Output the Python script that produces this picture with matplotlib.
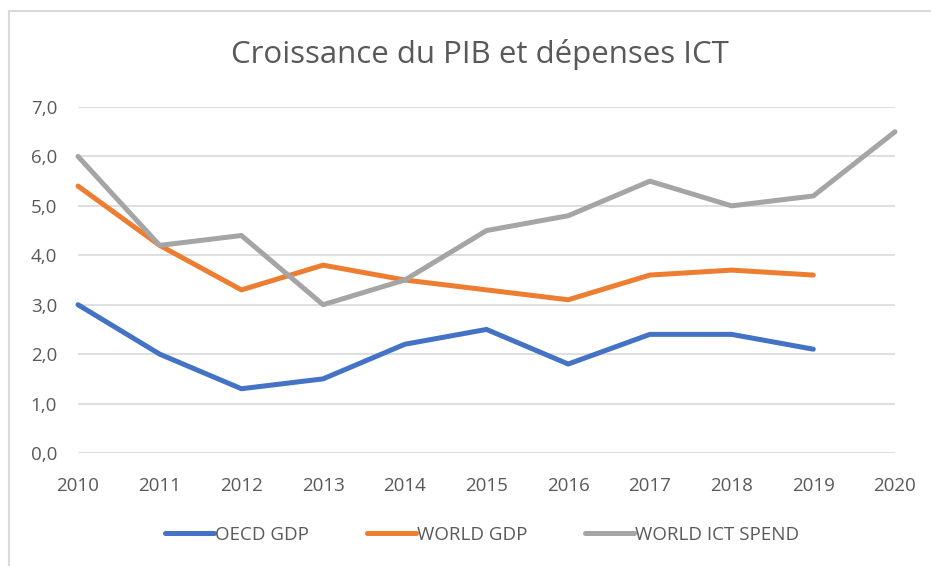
import matplotlib
matplotlib.use("Agg")
import matplotlib.pyplot as plt
from matplotlib.lines import Line2D
from matplotlib.ticker import FuncFormatter

years = [2010, 2011, 2012, 2013, 2014, 2015, 2016, 2017, 2018, 2019, 2020]
oecd_gdp = [3.0, 2.0, 1.3, 1.5, 2.2, 2.5, 1.8, 2.4, 2.4, 2.1]
world_gdp = [5.4, 4.2, 3.3, 3.8, 3.5, 3.3, 3.1, 3.6, 3.7, 3.6]
world_ict = [6.0, 4.2, 4.4, 3.0, 3.5, 4.5, 4.8, 5.5, 5.0, 5.2, 6.5]
y_ticks = [0, 1, 2, 3, 4, 5, 6, 7]

plt.rcParams['font.family'] = ['Open Sans', 'DejaVu Sans']

fig = plt.figure(figsize=(9.31, 5.66), dpi=100)
W, H = 931, 566
ax = fig.add_axes([78 / W, 1 - 453 / H, (895 - 78) / W, (453 - 107) / H])

c_blue = '#4472c4'
c_orange = '#ed7d31'
c_gray = '#a5a5a5'
txt = '#595959'

ax.plot(years[:len(oecd_gdp)], oecd_gdp, color=c_blue, lw=3.6, label='OECD GDP',
        solid_capstyle='round', solid_joinstyle='round', zorder=3)
ax.plot(years[:len(world_gdp)], world_gdp, color=c_orange, lw=3.6, label='WORLD GDP',
        solid_capstyle='round', solid_joinstyle='round', zorder=3)
ax.plot(years[:len(world_ict)], world_ict, color=c_gray, lw=3.6, label='WORLD ICT SPEND',
        solid_capstyle='round', solid_joinstyle='round', zorder=3)

ax.set_xlim(years[0], years[-1])
ax.set_ylim(0, 7)
ax.set_yticks(y_ticks)
ax.set_xticks(years)
ax.yaxis.set_major_formatter(FuncFormatter(lambda v, p: f"{v:.1f}".replace('.', ',')))
ax.grid(axis='y', color='#d9d9d9', lw=1.2)
ax.set_axisbelow(True)
for s in ax.spines.values():
    s.set_visible(False)
ax.tick_params(axis='both', length=0, labelsize=13.5, labelcolor=txt)
ax.tick_params(axis='y', pad=15)
ax.tick_params(axis='x', pad=17)
for ln in ax.lines:
    ln.set_clip_on(False)

fig.text(480 / W, 1 - 55 / H, 'Croissance du PIB et dépenses ICT', ha='center', va='center',
         fontsize=22.5, color=txt)

leg = fig.legend(handles=ax.lines, labels=[l.get_label() for l in ax.lines],
                 loc='center', bbox_to_anchor=(482 / W, 1 - 535 / H), ncol=3, frameon=False,
                 fontsize=13.5, labelcolor=txt, handlelength=2.6, handletextpad=0.05,
                 columnspacing=3.1)

# chart border
fig.add_artist(Line2D([9 / W, 1], [1 - 11 / H, 1 - 11 / H], transform=fig.transFigure,
                      color='#d9d9d9', lw=1.5))
fig.add_artist(Line2D([9 / W, 9 / W], [0, 1 - 11 / H], transform=fig.transFigure,
                      color='#d9d9d9', lw=1.5))

fig.savefig('out.png', dpi=100)
